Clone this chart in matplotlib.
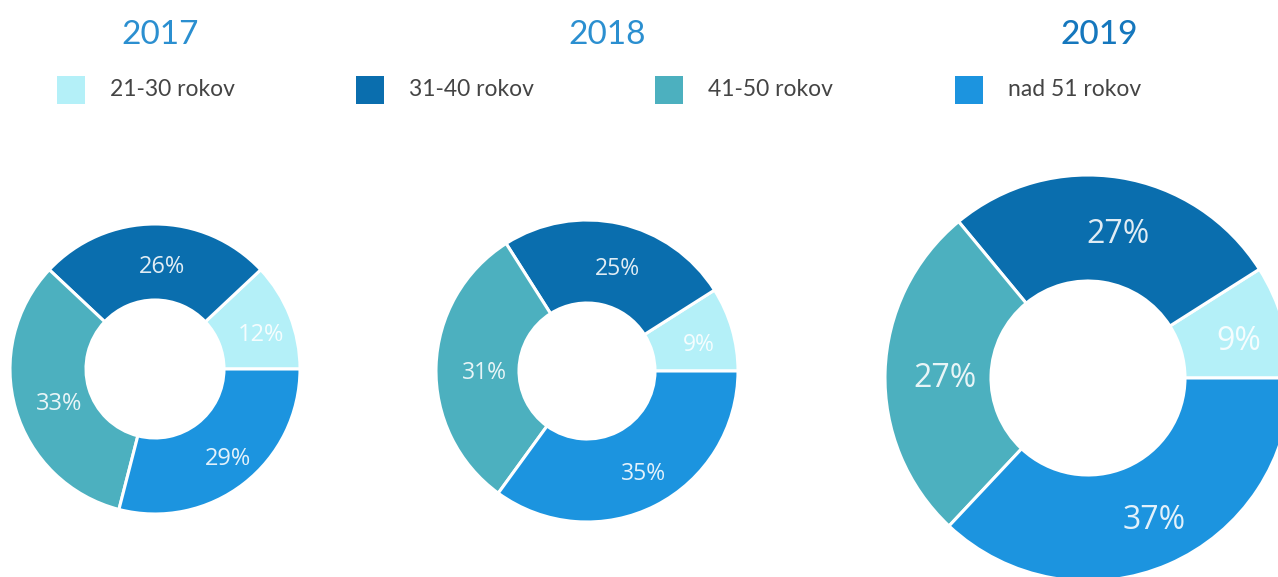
import numpy as np
import matplotlib.pyplot as plt

# data
years = ['2017', '2018', '2019']
groups = ['21-30 rokov', '31-40 rokov', '41-50 rokov', 'nad 51 rokov']
share_2017 = [12, 26, 33, 29]
share_2018 = [9, 25, 31, 35]
share_2019 = [9, 27, 27, 37]
shares = [share_2017, share_2018, share_2019]

colors = ['#b4f0f8', '#0a6eae', '#4cb0bf', '#1c94df']
title_colors = ['#2b8fd0', '#2b8fd0', '#1577bd']

# layout in pixel units (y up), figure is 1278 x 577
W, H = 1278, 577
centers = [(155, H - 369), (587, H - 371), (1088, H - 378)]
outer_r = [145, 151, 203]
inner_r = [69, 68, 97]
label_size = [17, 16.5, 23]
title_x = [160, 607, 1099]
# labels sit a little right of / below the ring middle in the original
label_shift = (7, -5)

fig = plt.figure(figsize=(12.78, 5.77), dpi=100)
ax = fig.add_axes([0, 0, 1, 1])

for i in range(3):
    wedges, _ = ax.pie(shares[i], colors=colors, startangle=0, counterclock=True,
                       center=centers[i], radius=outer_r[i],
                       wedgeprops=dict(width=outer_r[i] - inner_r[i],
                                       edgecolor='white', linewidth=2.2))
    r_mid = (outer_r[i] + inner_r[i]) / 2
    for w, v in zip(wedges, shares[i]):
        ang = np.deg2rad((w.theta1 + w.theta2) / 2)
        tx = centers[i][0] + r_mid * np.cos(ang) + label_shift[0]
        ty = centers[i][1] + r_mid * np.sin(ang) + label_shift[1]
        ax.text(tx, ty, f'{v}%', ha='center', va='center', color='white', alpha=0.88,
                fontsize=label_size[i], family=['Open Sans', 'DejaVu Sans'])
    ax.text(title_x[i], H - 35, years[i], ha='center', va='center', color=title_colors[i],
            fontsize=24, family=['Lato', 'DejaVu Sans'],
            fontweight='medium' if i == 2 else 'normal')

# legend
leg_x = [71, 370, 669, 969]
for g, c, lx in zip(groups, colors, leg_x):
    ax.scatter([lx], [H - 90], marker='s', s=420, color=c, linewidths=0)
    ax.text(lx + 39, H - 90, g, ha='left', va='center', color='#444444',
            fontsize=16.5, family=['Lato', 'DejaVu Sans'])

ax.set_xlim(0, W)
ax.set_ylim(0, H)
ax.set_aspect('equal')
ax.axis('off')

fig.savefig('out.png', dpi=100)
